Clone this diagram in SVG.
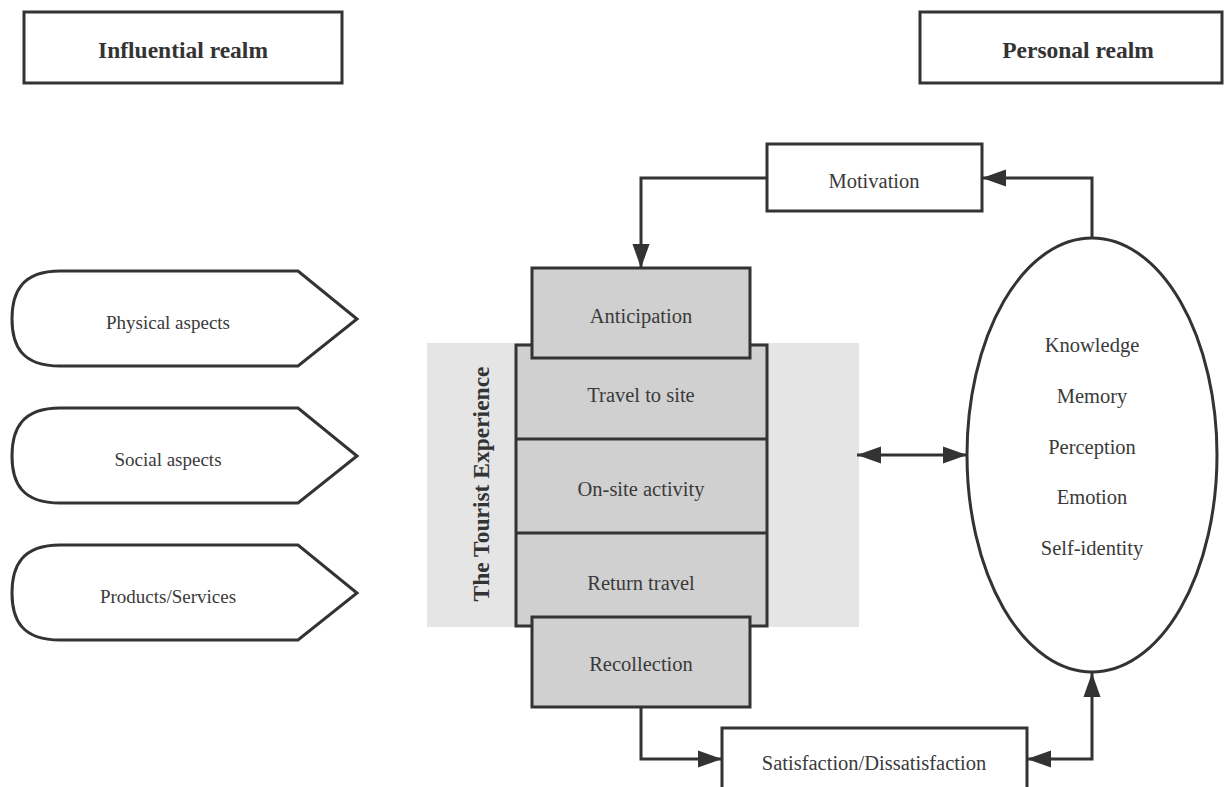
<svg xmlns="http://www.w3.org/2000/svg" width="1226" height="787" viewBox="0 0 1226 787">
  <style>
    .box { fill: #ffffff; stroke: #333333; stroke-width: 3; }
    .phase { fill: #d0d0d0; stroke: #333333; stroke-width: 3; }
    .line { fill: none; stroke: #333333; stroke-width: 3; }
    .label { font-family: "Liberation Serif", "Times New Roman", serif; font-size: 20.5px; fill: #3a3a3a; text-anchor: middle; dominant-baseline: central; }
    .side { font-size: 19px; }
    .head { font-family: "Liberation Serif", "Times New Roman", serif; font-size: 23.5px; font-weight: bold; fill: #333333; text-anchor: middle; dominant-baseline: central; }
  </style>
  <defs>
    <marker id="arrow" viewBox="0 0 10 10" refX="10" refY="5" markerWidth="8" markerHeight="5.7" orient="auto-start-reverse" markerUnits="strokeWidth" preserveAspectRatio="none">
      <path d="M0,0 L10,5 L0,10 Z" fill="#333333"/>
    </marker>
  </defs>

  <rect width="1226" height="787" fill="#ffffff"/>

  <!-- realm headings -->
  <g id="influential-realm">
    <rect class="box" x="24" y="12" width="318" height="71"/>
    <text class="head" x="183" y="50">Influential realm</text>
  </g>
  <g id="personal-realm">
    <rect class="box" x="920" y="12" width="302" height="71"/>
    <text class="head" x="1078" y="50">Personal realm</text>
  </g>

  <!-- influences -->
  <g id="physical-aspects">
    <path class="box" d="M60,271 L298,271 L357,319 L298,366 L60,366 C22,366 12,346 12,319 C12,292 22,271 60,271 Z"/>
    <text class="label side" x="168" y="322">Physical aspects</text>
  </g>
  <g id="social-aspects">
    <path class="box" d="M60,408 L298,408 L357,456 L298,503 L60,503 C22,503 12,483 12,456 C12,429 22,408 60,408 Z"/>
    <text class="label side" x="168" y="459">Social aspects</text>
  </g>
  <g id="products-services">
    <path class="box" d="M60,545 L298,545 L357,593 L298,640 L60,640 C22,640 12,620 12,593 C12,566 22,545 60,545 Z"/>
    <text class="label side" x="168" y="596">Products/Services</text>
  </g>

  <!-- tourist experience -->
  <g id="tourist-experience">
    <rect x="427" y="343" width="432" height="284" fill="#e5e5e5"/>
    <text class="head" transform="translate(481,484) rotate(-90)">The Tourist Experience</text>
  </g>
  <g id="experience-stages">
    <rect class="phase" x="516" y="345" width="251" height="281"/>
    <line class="line" x1="516" y1="439" x2="767" y2="439"/>
    <line class="line" x1="516" y1="533" x2="767" y2="533"/>
    <text class="label" x="641" y="395">Travel to site</text>
    <text class="label" x="641" y="489">On-site activity</text>
    <text class="label" x="641" y="583">Return travel</text>
  </g>
  <g id="anticipation">
    <rect class="phase" x="532" y="268" width="218" height="90"/>
    <text class="label" x="641" y="316">Anticipation</text>
  </g>
  <g id="recollection">
    <rect class="phase" x="532" y="617" width="218" height="90"/>
    <text class="label" x="641" y="664">Recollection</text>
  </g>

  <!-- personal realm nodes -->
  <g id="motivation">
    <rect class="box" x="767" y="144" width="215" height="67"/>
    <text class="label" x="874" y="181">Motivation</text>
  </g>
  <g id="personal-factors">
    <ellipse class="box" cx="1092" cy="455" rx="125" ry="217"/>
    <text class="label" x="1092" y="345">Knowledge</text>
    <text class="label" x="1092" y="396">Memory</text>
    <text class="label" x="1092" y="447">Perception</text>
    <text class="label" x="1092" y="497">Emotion</text>
    <text class="label" x="1092" y="548">Self-identity</text>
  </g>
  <g id="satisfaction">
    <rect class="box" x="722" y="728" width="305" height="70"/>
    <text class="label" x="874" y="763">Satisfaction/Dissatisfaction</text>
  </g>

  <!-- connectors -->
  <g id="connectors">
    <path class="line" d="M767,178 L641,178 L641,268" marker-end="url(#arrow)"/>
    <path class="line" d="M1092,238 L1092,178 L982,178" marker-end="url(#arrow)"/>
    <path class="line" d="M857,455 L967,455" marker-start="url(#arrow)" marker-end="url(#arrow)"/>
    <path class="line" d="M641,707 L641,759 L722,759" marker-end="url(#arrow)"/>
    <path class="line" d="M1027,759 L1092,759 L1092,673" marker-start="url(#arrow)" marker-end="url(#arrow)"/>
  </g>
</svg>
